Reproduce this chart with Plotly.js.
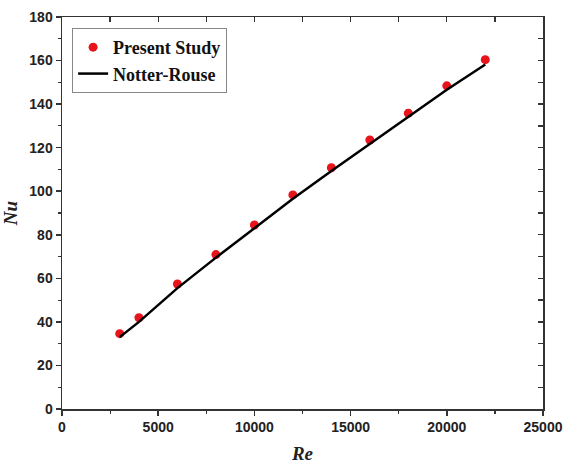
<!DOCTYPE html>
<html>
<head>
<meta charset="utf-8">
<script src="https://cdn.plot.ly/plotly-3.0.1.min.js"></script>
<style>html,body{margin:0;padding:0;background:#fff;}#chart{width:563px;height:466px;}</style>
</head>
<body>
<div id="chart"></div>
<script>
const reValues = [3000, 4000, 6000, 8000, 10000, 12000, 14000, 16000, 18000, 20000, 22000];
const nuPresent = [34.6, 41.9, 57.4, 70.9, 84.5, 98.3, 110.8, 123.5, 135.8, 148.4, 160.4];
const nuNotterRouse = [33.0, 40.0, 55.5, 69.5, 83.0, 96.5, 109.3, 121.8, 134.2, 146.6, 158.2];
const seriesNames = ['Present Study', 'Notter-Rouse'];
const axisTitles = {x: 'Re', y: 'Nu'};

const tickFont = {family: 'Liberation Sans, Arial, sans-serif', size: 14, color: '#222', weight: 'bold'};
const titleFont = {family: 'Liberation Serif, Times New Roman, serif', size: 19, color: '#222', weight: 'bold', style: 'italic'};

const traces = [
  {
    x: reValues, y: nuPresent, name: seriesNames[0], type: 'scatter', mode: 'markers',
    marker: {color: '#e8141b', size: 9, line: {width: 0}}
  },
  {
    x: reValues, y: nuNotterRouse, name: seriesNames[1], type: 'scatter', mode: 'lines',
    line: {color: '#000', width: 2.5}
  },
  {
    x: [null], y: [null], xaxis: 'x2', yaxis: 'y2', showlegend: false, hoverinfo: 'skip',
    type: 'scatter', mode: 'markers'
  }
];

const layout = {
  width: 563, height: 466,
  margin: {l: 62, r: 20, t: 17, b: 57},
  paper_bgcolor: '#fff', plot_bgcolor: '#fff',
  showlegend: true,
  legend: {
    x: 0.021, y: 0.972, xanchor: 'left', yanchor: 'top',
    bgcolor: '#fff', bordercolor: '#888', borderwidth: 1,
    font: {family: 'Liberation Serif, Times New Roman, serif', size: 18, color: '#111', weight: 'bold'},
    tracegroupgap: 0
  },
  xaxis: {
    range: [0, 25000], dtick: 5000, tick0: 0, tickformat: 'd',
    ticks: 'outside', ticklen: 5, tickwidth: 1.5, tickcolor: '#333',
    minor: {dtick: 2500, ticks: 'outside', ticklen: 3, tickwidth: 1.2, tickcolor: '#333'},
    showline: true, linewidth: 1.5, linecolor: '#333', mirror: true,
    showgrid: false, zeroline: false,
    tickfont: tickFont,
    title: {text: axisTitles.x, font: titleFont, standoff: 12},
    automargin: false
  },
  yaxis: {
    range: [0, 180], dtick: 20, tick0: 0,
    ticks: 'outside', ticklen: 5, tickwidth: 1.5, tickcolor: '#333',
    minor: {dtick: 10, ticks: 'outside', ticklen: 3, tickwidth: 1.2, tickcolor: '#333'},
    showline: true, linewidth: 1.5, linecolor: '#333', mirror: true,
    showgrid: false, zeroline: false,
    tickfont: tickFont,
    title: {text: axisTitles.y, font: titleFont, standoff: 6},
    automargin: false
  },
  xaxis2: {
    overlaying: 'x', side: 'top', anchor: 'y2',
    range: [0, 25000], dtick: 2500, tick0: 0,
    ticks: 'inside', ticklen: 5, tickwidth: 1.3, tickcolor: '#333',
    showticklabels: false, showline: false, showgrid: false, zeroline: false
  },
  yaxis2: {
    overlaying: 'y', side: 'right', anchor: 'x2',
    range: [0, 180], dtick: 10, tick0: 0,
    ticks: 'inside', ticklen: 5, tickwidth: 1.3, tickcolor: '#333',
    showticklabels: false, showline: false, showgrid: false, zeroline: false
  }
};

Plotly.newPlot('chart', traces, layout, {displayModeBar: false, staticPlot: true});
</script>
</body>
</html>
